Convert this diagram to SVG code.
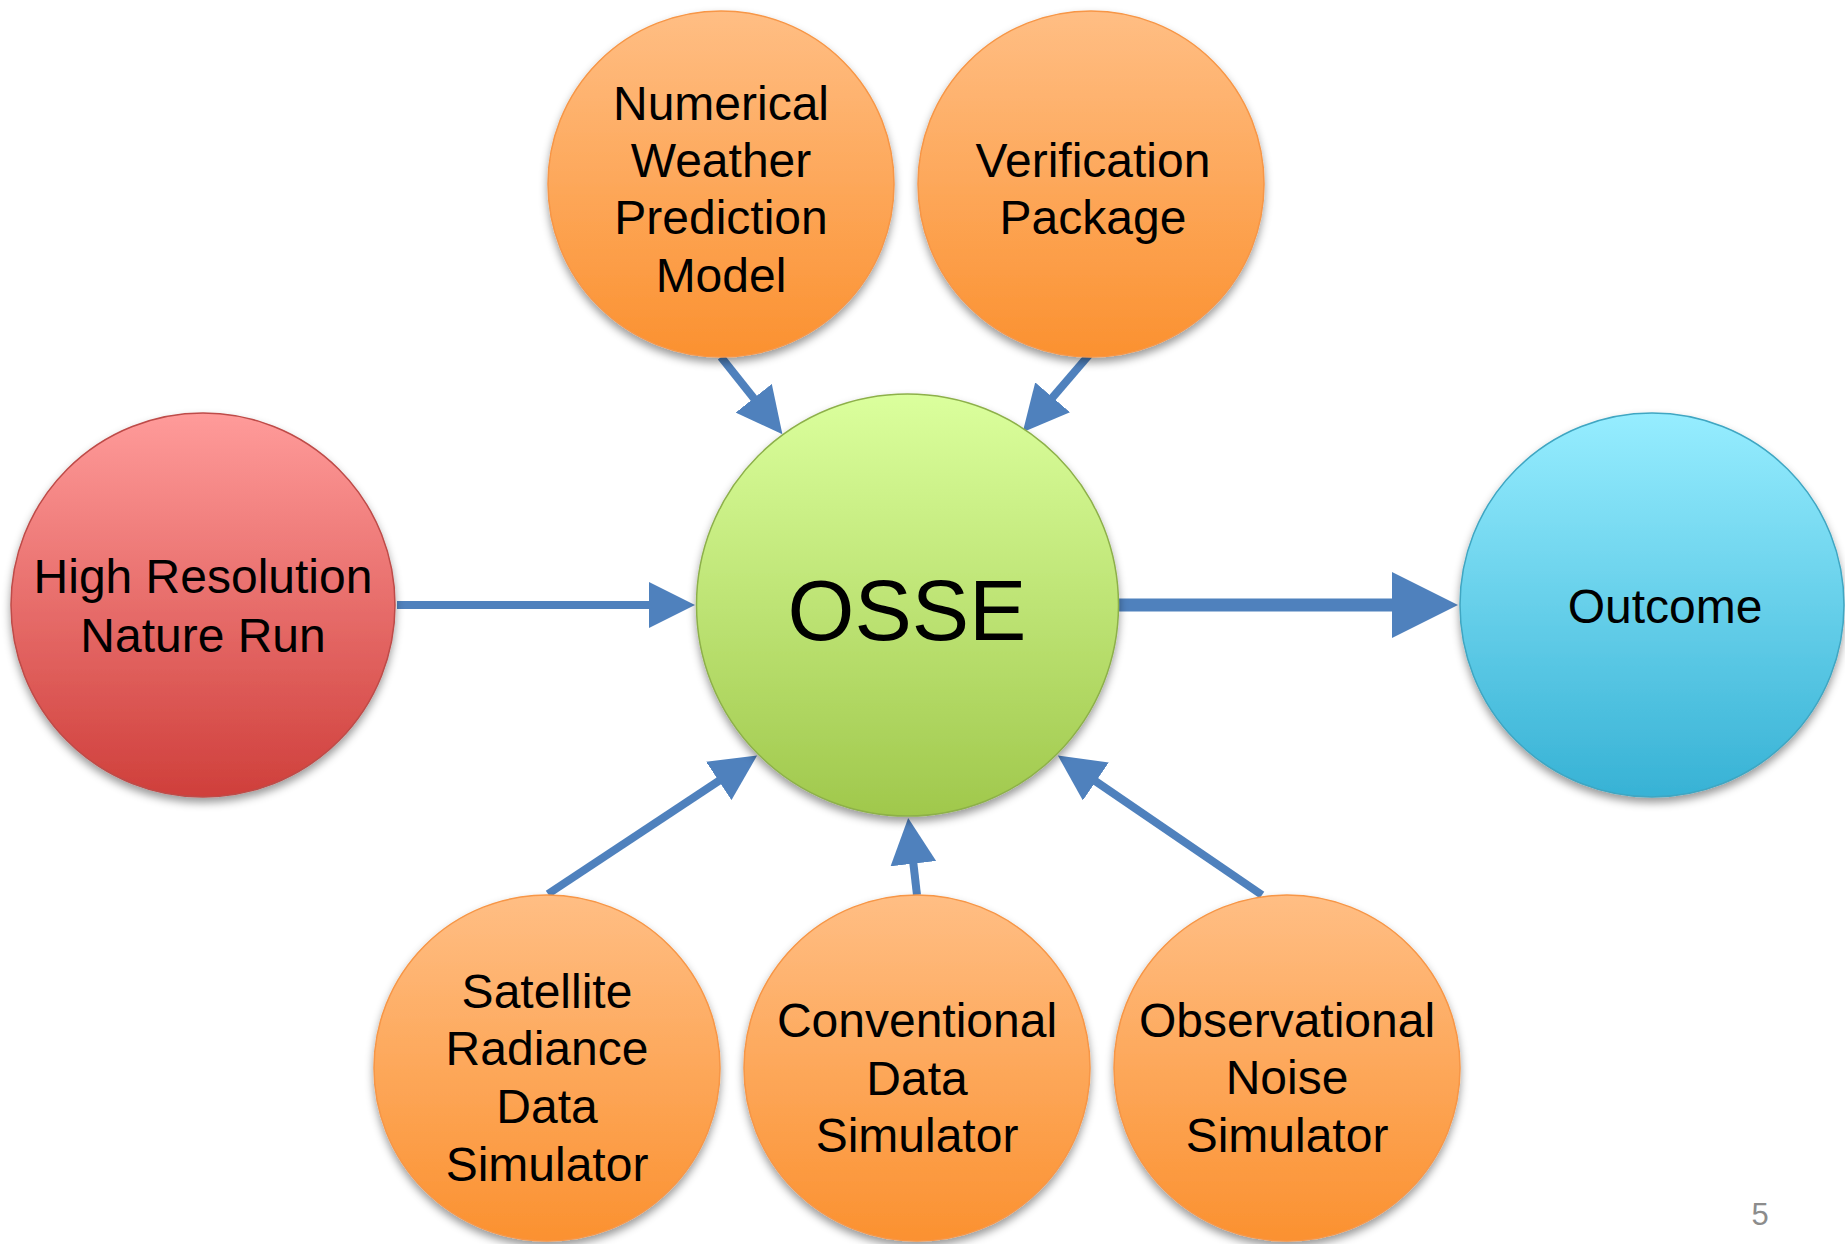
<svg xmlns="http://www.w3.org/2000/svg" width="1845" height="1244" viewBox="0 0 1845 1244">
  <defs>
    <style>
      .lbl { font-family: "Liberation Sans", Arial, sans-serif; font-size: 48px; fill: #000; text-anchor: middle; }
      .big { font-size: 86px; }
      .conn { stroke: #4F81BD; stroke-width: 8; fill: none; }
      .conn-lg { stroke-width: 13; }
      .node { filter: url(#shadow); stroke-width: 1.5; }
      .orange { fill: url(#gOrange); stroke: #F79646; }
      .green { fill: url(#gGreen); stroke: #8DB04A; }
      .red { fill: url(#gRed); stroke: #BE4B48; }
      .blue { fill: url(#gBlue); stroke: #3FA6C2; }
      .pagenum { font-family: "Liberation Sans", Arial, sans-serif; font-size: 31px; fill: #8C8C8C; text-anchor: middle; }
    </style>
    <linearGradient id="gOrange" x1="0" y1="0" x2="0" y2="1">
      <stop offset="0" stop-color="#FFBE84"/>
      <stop offset="1" stop-color="#FB9130"/>
    </linearGradient>
    <linearGradient id="gGreen" x1="0" y1="0" x2="0" y2="1">
      <stop offset="0" stop-color="#DBFF9D"/>
      <stop offset="1" stop-color="#A0C84C"/>
    </linearGradient>
    <linearGradient id="gRed" x1="0" y1="0" x2="0" y2="1">
      <stop offset="0" stop-color="#FF9B9A"/>
      <stop offset="1" stop-color="#CF3F3B"/>
    </linearGradient>
    <linearGradient id="gBlue" x1="0" y1="0" x2="0" y2="1">
      <stop offset="0" stop-color="#96EDFF"/>
      <stop offset="1" stop-color="#37B2D5"/>
    </linearGradient>
    <filter id="shadow" x="-20%" y="-20%" width="140%" height="145%">
      <feDropShadow dx="0" dy="5" stdDeviation="4" flood-color="#000" flood-opacity="0.4"/>
    </filter>
    <marker id="head" viewBox="0 -23 46 46" markerWidth="46" markerHeight="46" refX="1" refY="0" markerUnits="userSpaceOnUse" orient="auto">
      <path d="M0,-23 L46,0 L0,23 z" fill="#4F81BD"/>
    </marker>
    <marker id="headLg" viewBox="0 -33 66 66" markerWidth="66" markerHeight="66" refX="1" refY="0" markerUnits="userSpaceOnUse" orient="auto">
      <path d="M0,-33 L66,0 L0,33 z" fill="#4F81BD"/>
    </marker>
  </defs>

  <rect width="1845" height="1244" fill="#FFFFFF"/>

  <!-- connectors: each line ends at the base of its arrowhead -->
  <g id="connectors">
    <path id="c-nature-osse" class="conn" d="M397,605 L650,605" marker-end="url(#head)"/>
    <path id="c-osse-outcome" class="conn conn-lg" d="M1119,605 L1393,605" marker-end="url(#headLg)"/>
    <path id="c-nwp-osse" class="conn" d="M721,357 L754.4,399" marker-end="url(#head)"/>
    <path id="c-verif-osse" class="conn" d="M1089,355 L1052,398.1" marker-end="url(#head)"/>
    <path id="c-sat-osse" class="conn" d="M548,894 L719.6,780.4" marker-end="url(#head)"/>
    <path id="c-conv-osse" class="conn" d="M917,895 L913.3,862.7" marker-end="url(#head)"/>
    <path id="c-noise-osse" class="conn" d="M1262,895 L1095,780.9" marker-end="url(#head)"/>
  </g>

  <g id="node-nwp">
    <circle class="node orange" cx="721" cy="184" r="173"/>
    <text class="lbl" x="721" y="120">Numerical</text>
    <text class="lbl" x="721" y="177">Weather</text>
    <text class="lbl" x="721" y="234">Prediction</text>
    <text class="lbl" x="721" y="292">Model</text>
  </g>

  <g id="node-verification">
    <circle class="node orange" cx="1091" cy="184" r="173"/>
    <text class="lbl" x="1093" y="177">Verification</text>
    <text class="lbl" x="1093" y="234">Package</text>
  </g>

  <g id="node-nature-run">
    <circle class="node red" cx="203" cy="605" r="192"/>
    <text class="lbl" x="203" y="593">High Resolution</text>
    <text class="lbl" x="203" y="652">Nature Run</text>
  </g>

  <g id="node-osse">
    <circle class="node green" cx="907.5" cy="605" r="211"/>
    <text class="lbl big" x="907" y="640">OSSE</text>
  </g>

  <g id="node-outcome">
    <circle class="node blue" cx="1652" cy="605" r="192"/>
    <text class="lbl" x="1665" y="623">Outcome</text>
  </g>

  <g id="node-satellite">
    <circle class="node orange" cx="547" cy="1068" r="173"/>
    <text class="lbl" x="547" y="1008">Satellite</text>
    <text class="lbl" x="547" y="1065">Radiance</text>
    <text class="lbl" x="547" y="1123">Data</text>
    <text class="lbl" x="547" y="1181">Simulator</text>
  </g>

  <g id="node-conventional">
    <circle class="node orange" cx="917" cy="1068" r="173"/>
    <text class="lbl" x="917" y="1037">Conventional</text>
    <text class="lbl" x="917" y="1095">Data</text>
    <text class="lbl" x="917" y="1152">Simulator</text>
  </g>

  <g id="node-noise">
    <circle class="node orange" cx="1287" cy="1068" r="173"/>
    <text class="lbl" x="1287" y="1037">Observational</text>
    <text class="lbl" x="1287" y="1094">Noise</text>
    <text class="lbl" x="1287" y="1152">Simulator</text>
  </g>

  <text class="pagenum" x="1760" y="1225">5</text>
</svg>
